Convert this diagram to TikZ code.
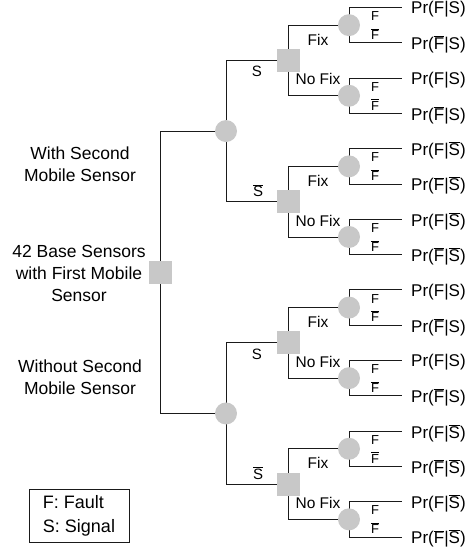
\documentclass[tikz,border=0pt]{standalone}
\usepackage{fontspec}
\setmainfont{Liberation Sans}
\usetikzlibrary{backgrounds}
\definecolor{nodegray}{HTML}{C8C8C8}
\definecolor{linecol}{HTML}{1A1A1A}
\newcommand{\ob}[1]{\vbox{\hrule height .7pt\kern .9pt\hbox{#1}}}
\newcommand{\fs}[1]{\fontsize{#1}{#1}\selectfont}
\begin{document}
\begin{tikzpicture}[x=1pt,y=-1pt,
  decbox/.style={fill=nodegray, minimum size=23pt, inner sep=0pt},
  chancenode/.style={circle, fill=nodegray, minimum size=22pt, inner sep=0pt},
  conn/.style={draw=linecol, line width=0.9pt},
  leaftext/.style={anchor=west, inner sep=0pt, font=\fs{17}},
  smalllab/.style={inner sep=0pt, font=\fs{13}},
  fixlab/.style={inner sep=0pt, font=\fs{15.5}},
  siglab/.style={inner sep=0pt, font=\fs{15}},
  sidetext/.style={align=center, inner sep=0pt, font=\fontsize{17.5}{22}\selectfont}
]
\useasboundingbox (0,0) rectangle (476,552);
\def\dy{35.3}
\def\yo{7.5}
% root
\node[decbox] (root) at (160,{\yo+\dy*7.5}) {};
% level-2 chance nodes
\node[chancenode] (c0) at (226,{\yo+\dy*3.5}) {};
\node[chancenode] (c1) at (226,{\yo+\dy*11.5}) {};
% decision squares
\foreach \i in {0,1,2,3}{
  \node[decbox] (s\i) at (288,{\yo+\dy*(4*\i+1.5)}) {};
}
% chance nodes
\foreach \j in {0,...,7}{
  \node[chancenode] (h\j) at (349,{\yo+\dy*(2*\j+0.5)}) {};
}
% leaf ends
\foreach \k in {0,...,15}{
  \coordinate (e\k) at (402,{\yo+\dy*\k});
}
% connectors
\begin{scope}[on background layer]
  \draw[conn] (root.center) |- (c0.center);
  \draw[conn] (root.center) |- (c1.center);
  \draw[conn] (c0.center) |- (s0.center);
  \draw[conn] (c0.center) |- (s1.center);
  \draw[conn] (c1.center) |- (s2.center);
  \draw[conn] (c1.center) |- (s3.center);
  \foreach \i in {0,1,2,3}{
    \pgfmathtruncatemacro{\ja}{2*\i}
    \pgfmathtruncatemacro{\jb}{2*\i+1}
    \draw[conn] (s\i.center) |- (h\ja.center);
    \draw[conn] (s\i.center) |- (h\jb.center);
  }
  \foreach \j in {0,...,7}{
    \pgfmathtruncatemacro{\ka}{2*\j}
    \pgfmathtruncatemacro{\kb}{2*\j+1}
    \draw[conn] (h\j.center) |- (e\ka);
    \draw[conn] (h\j.center) |- (e\kb);
  }
\end{scope}
% leaf texts
\foreach \k in {0,...,15}{
  \pgfmathtruncatemacro{\q}{div(\k,4)}
  \ifodd\k
    \ifodd\q
      \node[leaftext] (p\k) at ([xshift=9pt,yshift=-2pt]e\k) {Pr(\ob{F}|\ob{S})};
    \else
      \node[leaftext] (p\k) at ([xshift=9pt,yshift=-2pt]e\k) {Pr(\ob{F}|S)};
    \fi
  \else
    \ifodd\q
      \node[leaftext] (p\k) at ([xshift=9pt,yshift=-2pt]e\k) {Pr(F|\ob{S})};
    \else
      \node[leaftext] (p\k) at ([xshift=9pt,yshift=-2pt]e\k) {Pr(F|S)};
    \fi
  \fi
}
% F labels
\foreach \j in {0,...,7}{
  \node[smalllab] (fa\j) at ([xshift=26pt,yshift=9pt]h\j.center) {F};
  \node[smalllab] (fb\j) at ([xshift=26pt,yshift=-9pt]h\j.center) {\ob{F}};
}
% Fix / No Fix labels
\foreach \i in {0,1,2,3}{
  \node[fixlab] (fx\i) at ([xshift=30pt,yshift=21pt]s\i.center) {Fix};
  \node[fixlab] (nf\i) at ([xshift=30pt,yshift=-19pt]s\i.center) {No Fix};
}
% signal labels
\node[siglab] (sl0) at ([xshift=-31pt,yshift=-11pt]s0.center) {S};
\node[siglab] (sl1) at ([xshift=-30pt,yshift=11pt]s1.center) {\ob{S}};
\node[siglab] (sl2) at ([xshift=-31pt,yshift=-11pt]s2.center) {S};
\node[siglab] (sl3) at ([xshift=-30pt,yshift=11pt]s3.center) {\ob{S}};
% side texts
\node[sidetext] (t1) at (80,164) {With Second\\Mobile Sensor};
\node[sidetext] (t2) at (79,273) {42 Base Sensors\\with First Mobile\\Sensor};
\node[sidetext] (t3) at (80,377) {Without Second\\Mobile Sensor};
% legend
\node[draw=linecol, line width=0.8pt, minimum width=100pt, minimum height=53pt, inner sep=0pt,
  align=left, font=\fontsize{18}{24}\selectfont] (legend) at (79,515.5) {F: Fault\\S: Signal};
\end{tikzpicture}
\end{document}
